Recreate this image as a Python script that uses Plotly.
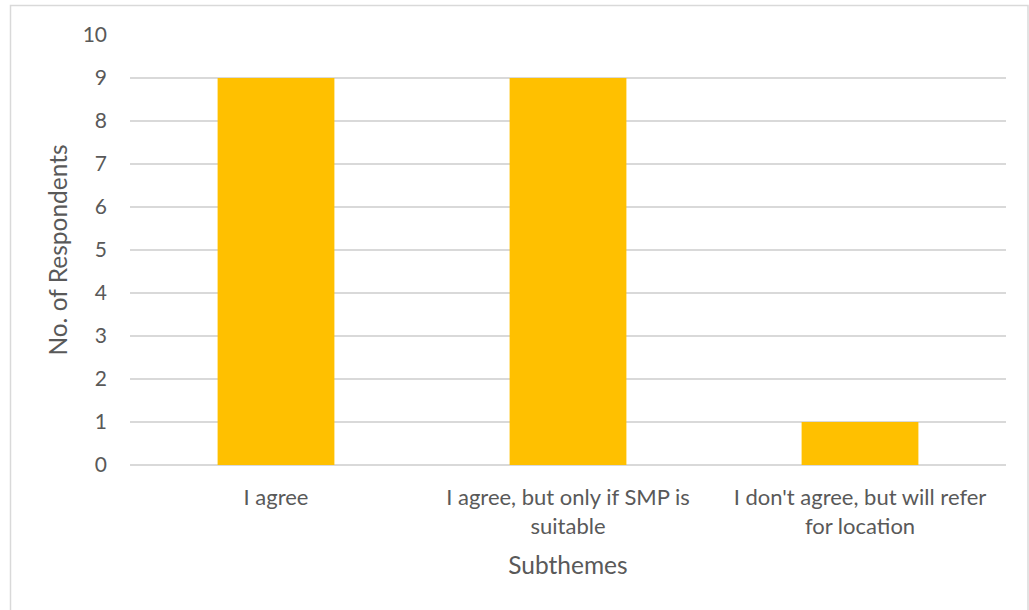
import plotly.graph_objects as go

categories = ["I agree", "I agree, but only if SMP is<br>suitable", "I don't agree, but will refer<br>for location"]
respondents = [9, 9, 1]
y_ticks = list(range(0, 11))

W, H = 1029, 610
L, R, T, B = 130, 23, 35, 145
pw, ph = W - L - R, H - T - B

def px_x(p):
    return (p - L) / pw

def px_y(p):
    return (H - B - p) / ph

font_family = "Lato, 'Open Sans', sans-serif"
grey_text = "#595959"

fig = go.Figure(
    go.Bar(
        x=categories,
        y=respondents,
        marker=dict(color="#FFC000", line=dict(width=0)),
        width=0.4,
    )
)

fig.update_layout(
    width=W,
    height=H,
    margin=dict(l=L, r=R, t=T, b=B),
    paper_bgcolor="white",
    plot_bgcolor="white",
    showlegend=False,
    font=dict(family=font_family, color=grey_text),
    xaxis=dict(
        title=dict(text="Subthemes", font=dict(size=24.5, color=grey_text), standoff=19),
        tickfont=dict(size=22, color=grey_text),
        showgrid=False,
        showline=False,
        ticks="",
        range=[-0.5, 2.5],
        ticklabelstandoff=17,
    ),
    yaxis=dict(
        title=dict(text="No. of Respondents", font=dict(size=24.5, color=grey_text), standoff=8),
        tickvals=y_ticks,
        tickfont=dict(size=21, color=grey_text),
        range=[0, 10],
        showgrid=True,
        gridcolor="#D9D9D9",
        gridwidth=1.5,
        zeroline=True,
        zerolinecolor="#D9D9D9",
        zerolinewidth=1.5,
        showline=False,
        ticks="",
        ticklabelstandoff=22,
    ),
    shapes=[
        dict(
            type="rect",
            xref="paper",
            yref="paper",
            x0=px_x(10.5),
            x1=px_x(1028),
            y0=px_y(620),
            y1=px_y(5.5),
            line=dict(color="#D9D9D9", width=1.5),
            fillcolor="rgba(0,0,0,0)",
            layer="below",
        )
    ],
)

fig.write_html("out.html")
